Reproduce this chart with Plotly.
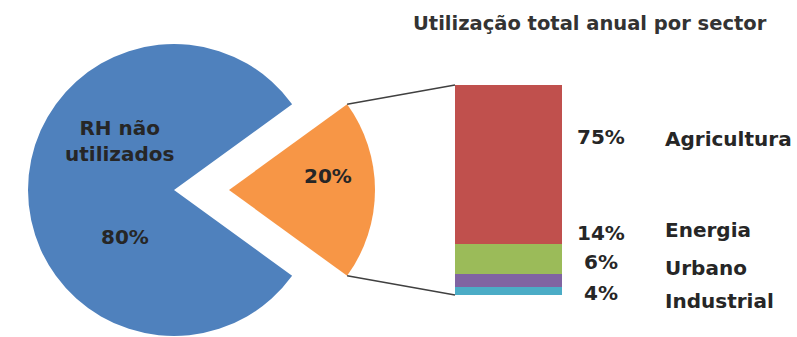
import math
import plotly.graph_objects as go

W, H = 797, 337

# ---- data ----
pie_labels = ["Utilizados", "RH não utilizados"]
pie_values = [20, 80]
pie_colors = ["#F79646", "#4F81BD"]

sectors = ["Industrial", "Urbano", "Energia", "Agricultura"]
sector_values = [4, 6, 14, 75]
sector_colors = ["#4BACC6", "#8064A2", "#9BBB59", "#C0504D"]

title_text = "Utilização total anual por sector"

# ---- layout geometry (pixels) ----
pie_cx, pie_cy, pie_r = 174, 190, 146
explode_px = 55
bar_x0, bar_x1 = 455, 562
bar_ytop, bar_ybot = 85, 295

FONT = "DejaVu Sans"
TXT = "#262626"


def px(x):
    return x / W


def py(y):
    return 1 - y / H


def pie_domain(cx, cy, r):
    return dict(x=[px(cx - r), px(cx + r)], y=[py(cy + r), py(cy - r)])


start_angle = 90 - pie_values[0] / sum(pie_values) * 360 / 2  # center the small slice at 3 o'clock

fig = go.Figure()
# main pie (blue slice visible)
fig.add_trace(go.Pie(
    labels=pie_labels, values=pie_values, sort=False, direction="clockwise",
    rotation=start_angle,
    marker=dict(colors=["rgba(0,0,0,0)", pie_colors[1]], line=dict(width=0)),
    textinfo="none", hoverinfo="skip", showlegend=False,
    domain=pie_domain(pie_cx, pie_cy, pie_r),
))
# exploded slice
fig.add_trace(go.Pie(
    labels=pie_labels, values=pie_values, sort=False, direction="clockwise",
    rotation=start_angle,
    marker=dict(colors=[pie_colors[0], "rgba(0,0,0,0)"], line=dict(width=0)),
    textinfo="none", hoverinfo="skip", showlegend=False,
    domain=pie_domain(pie_cx + explode_px, pie_cy, pie_r),
))

# stacked bar
for name, v, c in zip(sectors, sector_values, sector_colors):
    fig.add_trace(go.Bar(
        x=[0], y=[v], name=name, marker=dict(color=c, line=dict(width=0)),
        width=1, showlegend=False, hoverinfo="skip",
    ))

total = sum(sector_values)


def ann(x, y, text, size, color=TXT, xanchor="center"):
    return dict(x=px(x), y=py(y), xref="paper", yref="paper", text=text, showarrow=False,
                xanchor=xanchor, yanchor="middle",
                font=dict(family=FONT, size=size, color=color, weight="bold"))


annotations = [
    ann(590, 23, title_text, 19.5, color="#333333"),
    ann(120, 141, "RH não<br>utilizados", 20),
    ann(125, 237, f"{pie_values[1]}%", 20),
    ann(328, 176, f"{pie_values[0]}%", 20),
]

# sector labels (positions in pixels, same order as sectors)
pct_y = [293, 262, 233, 137]
name_y = [301, 268, 230, 139]
for name, v, yp, yn in zip(sectors, sector_values, pct_y, name_y):
    annotations.append(ann(601, yp, f"{v}%", 20))
    annotations.append(ann(663, yn, name, 20, xanchor="left"))

# connector lines from exploded slice corners to bar corners
half = pie_values[0] / sum(pie_values) * math.pi  # half angle in radians
ocx = pie_cx + explode_px
corner_top = (ocx + pie_r * math.cos(half), pie_cy - pie_r * math.sin(half))
corner_bot = (ocx + pie_r * math.cos(half), pie_cy + pie_r * math.sin(half))
shapes = [
    dict(type="line", xref="paper", yref="paper",
         x0=px(corner_top[0]), y0=py(corner_top[1]), x1=px(bar_x0), y1=py(bar_ytop),
         line=dict(color="#404040", width=1.5)),
    dict(type="line", xref="paper", yref="paper",
         x0=px(corner_bot[0]), y0=py(corner_bot[1]), x1=px(bar_x0), y1=py(bar_ybot),
         line=dict(color="#404040", width=1.5)),
]

fig.update_layout(
    width=W, height=H,
    margin=dict(l=0, r=0, t=0, b=0, pad=0),
    paper_bgcolor="white", plot_bgcolor="rgba(0,0,0,0)",
    barmode="stack", bargap=0,
    xaxis=dict(domain=[px(bar_x0), px(bar_x1)], range=[-0.5, 0.5], visible=False, fixedrange=True),
    yaxis=dict(domain=[py(bar_ybot), py(bar_ytop)], range=[0, total], visible=False, fixedrange=True),
    annotations=annotations,
    shapes=shapes,
)

fig.write_html("out.html", config={"displayModeBar": False})
